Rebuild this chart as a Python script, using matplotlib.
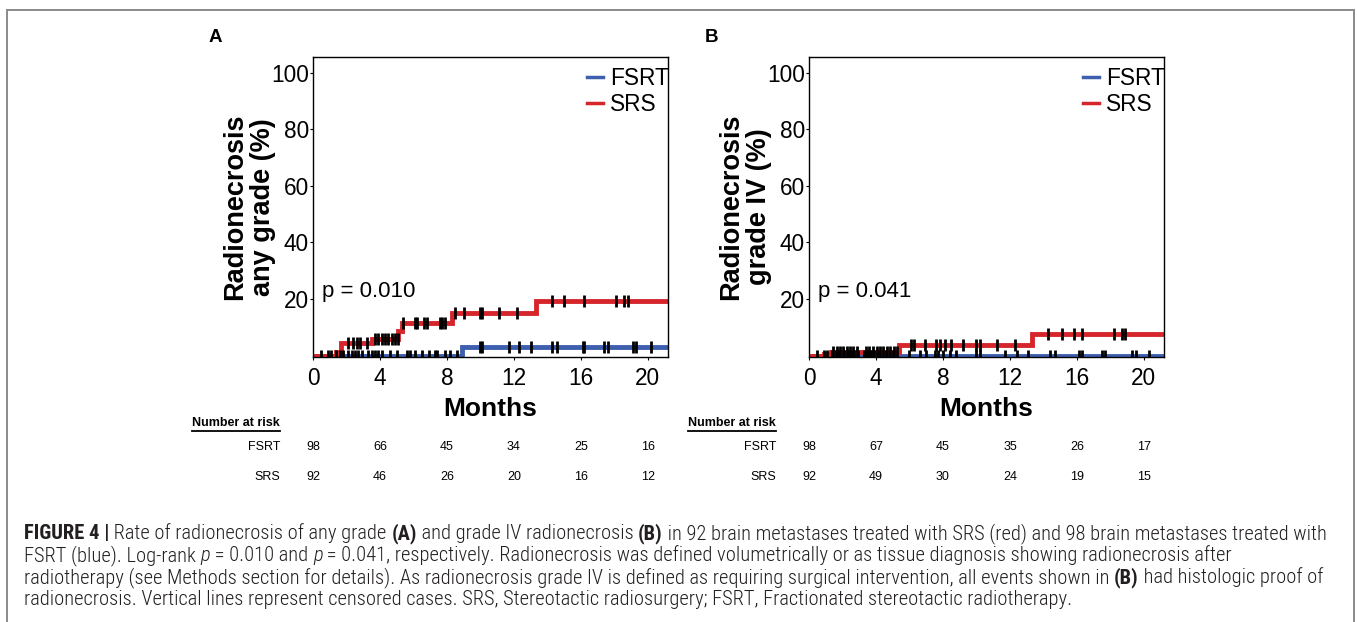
import matplotlib
matplotlib.use('Agg')
import matplotlib.pyplot as plt
import matplotlib.transforms as mtransforms
import numpy as np
from matplotlib import font_manager
from matplotlib.lines import Line2D
from matplotlib.patches import Rectangle

# ------------------------------------------------------------------ #
# data (months, cumulative rate in %)
# ------------------------------------------------------------------ #
risk_months = [0, 4, 8, 12, 16, 20]

# panel A: any grade
a_fsrt_times = [0, 8.9]
a_fsrt_rates = [0, 3.2]
a_fsrt_censor = [0.5, 0.9, 1.1, 1.4, 1.6, 1.8, 2.1, 2.3, 2.5, 2.7, 2.9, 3.3, 3.5,
                 3.7, 3.9, 4.1, 4.6, 5.0, 5.6, 5.8, 6.1, 6.5, 6.9, 7.3, 7.4, 7.9,
                 8.2, 8.6, 10.0, 10.1, 11.7, 12.3, 13.0, 14.3, 14.6, 16.1, 16.2,
                 17.4, 17.6, 19.1, 19.3, 20.2]
a_srs_times = [0, 1.4, 1.7, 3.5, 5.1, 5.3, 8.3, 13.3]
a_srs_rates = [0, 1.4, 4.3, 5.9, 8.7, 11.4, 14.9, 19.2]
a_srs_censor = [2.1, 2.4, 2.6, 2.8, 3.2, 3.7, 3.9, 4.1, 4.3, 4.5, 4.7, 4.9, 5.05,
                5.4, 6.1, 6.2, 6.6, 6.8, 7.6, 7.7, 7.9, 8.5, 9.0, 10.0, 10.1, 11.1,
                12.2, 14.3, 15.0, 16.2, 18.1, 18.6, 18.8]
a_risk_fsrt = [98, 66, 45, 34, 25, 16]
a_risk_srs = [92, 46, 26, 20, 16, 12]

# panel B: grade IV
b_fsrt_times = [0]
b_fsrt_rates = [0]
b_fsrt_censor = [0.5, 0.9, 1.1, 1.4, 1.6, 1.8, 2.1, 2.3, 2.5, 2.7, 2.9, 3.3, 3.5,
                 3.7, 3.9, 4.1, 4.6, 5.0, 6.0, 6.6, 7.0, 7.5, 7.7, 8.0, 8.4, 8.8,
                 10.0, 10.2, 11.7, 12.4, 13.1, 14.4, 14.7, 16.1, 16.3, 17.5, 17.7,
                 19.3, 19.5, 20.3]
b_srs_times = [0, 0.9, 1.3, 5.4, 13.3]
b_srs_rates = [0, 0.6, 1.2, 3.6, 7.7]
b_srs_censor = [1.45, 1.65, 1.85, 2.05, 2.25, 2.45, 2.65, 2.85, 3.4, 3.6, 3.85,
                4.05, 4.25, 4.4, 4.65, 4.85, 5.05, 5.25, 6.1, 6.3, 6.9, 7.6, 7.8,
                8.1, 8.5, 9.2, 10.0, 10.2, 11.2, 12.3, 14.3, 15.1, 15.8, 16.3,
                18.2, 18.7, 18.9]
b_risk_fsrt = [98, 67, 45, 35, 26, 17]
b_risk_srs = [92, 49, 30, 24, 19, 15]

W, H = 1357, 622
X_MAX = 21.2
BLUE = '#3d5fae'
RED = '#d6262c'

installed = {f.name for f in font_manager.fontManager.ttflist}
MAIN_FONT = 'Liberation Sans' if 'Liberation Sans' in installed else 'DejaVu Sans'
CAP_FONT = MAIN_FONT
for cand in ['Liberation Sans Narrow', 'Roboto Condensed', 'DejaVu Sans Condensed']:
    if cand in installed:
        CAP_FONT = cand
        break

plt.rcParams['font.family'] = MAIN_FONT


def fx(px):
    return px / W


def fy(py):
    return 1 - py / H


fig = plt.figure(figsize=(W / 100, H / 100), dpi=100)
fig.patch.set_facecolor('white')

# outer frame of the figure box
fig.patches.append(Rectangle((fx(7), -0.02), fx(1354) - fx(7), fy(10) + 0.02,
                             transform=fig.transFigure, fill=False,
                             ec='#8a8a8a', lw=1.4))

TXT = 9.0  # risk table font size


def draw_panel(left_px, letter, ylabel, pval, fsrt, srs, risk_fsrt, risk_srs):
    ax = fig.add_axes([fx(left_px), fy(357), 355 / W, 300 / H])
    for (times, rates, cens), col, lab in [(fsrt, BLUE, 'FSRT'), (srs, RED, 'SRS')]:
        tt = list(times) + [X_MAX + 1]
        rr = list(rates) + [rates[-1]]
        ax.step(tt, rr, where='post', color=col, lw=3.5, label=lab,
                solid_joinstyle='miter', zorder=2)
        idx = np.searchsorted(times, cens, side='right') - 1
        ax.plot(cens, np.asarray(rates)[idx], ls='none', marker='|', ms=8,
                mew=2.0, color='black', zorder=3)

    ax.set_xlim(0, X_MAX)
    ax.set_ylim(-0.5, 105.6)
    ax.set_xticks(risk_months)
    ax.set_yticks([20, 40, 60, 80, 100])
    ax.tick_params(direction='out', length=2.5, width=0.8, labelsize=16.3)
    ax.tick_params(axis='y', pad=0.5)
    ax.tick_params(axis='x', pad=5)
    for sp in ax.spines.values():
        sp.set_linewidth(1.0)
    ax.set_xlabel('Months', fontsize=19, fontweight='bold', labelpad=4.5)
    ax.set_ylabel(ylabel, fontsize=19.5, fontweight='bold', linespacing=1.1)
    ax.yaxis.set_label_coords(-0.105, 0.5)
    ax.text(0.55, 22.6, pval, fontsize=16, ha='left', va='center')

    handles = [Line2D([], [], color=BLUE, lw=2.5), Line2D([], [], color=RED, lw=2.5)]
    ax.legend(handles, ['FSRT', 'SRS'], loc='upper right', frameon=False,
              fontsize=16.3, handlelength=0.7, handletextpad=0.3,
              labelspacing=0.12, borderaxespad=0.0, borderpad=0.45,
              bbox_to_anchor=(1.03, 1.0))

    fig.text(fx(left_px - 98), fy(37), letter, fontsize=13.5, fontweight='bold',
             ha='center', va='center')

    # number at risk table
    lab_x = fx(left_px - 33)
    fig.text(lab_x, fy(423), 'Number at risk', fontsize=TXT, fontweight='bold',
             ha='right', va='center')
    fig.lines.append(Line2D([fx(left_px - 121), lab_x], [fy(431), fy(431)],
                            transform=fig.transFigure, color='black', lw=1.3))
    trans = mtransforms.blended_transform_factory(ax.transData, fig.transFigure)
    for row_y, name, vals in [(447, 'FSRT', risk_fsrt), (477, 'SRS', risk_srs)]:
        fig.text(lab_x, fy(row_y), name, fontsize=TXT, ha='right', va='center')
        for m, v in zip(risk_months, vals):
            ax.text(m, fy(row_y), str(v), transform=trans, fontsize=TXT,
                    ha='center', va='center', clip_on=False)
    return ax


draw_panel(313, 'A', 'Radionecrosis\nany grade (%)', 'p = 0.010',
           (a_fsrt_times, a_fsrt_rates, a_fsrt_censor),
           (a_srs_times, a_srs_rates, a_srs_censor), a_risk_fsrt, a_risk_srs)
draw_panel(809, 'B', 'Radionecrosis\ngrade IV (%)', 'p = 0.041',
           (b_fsrt_times, b_fsrt_rates, b_fsrt_censor),
           (b_srs_times, b_srs_rates, b_srs_censor), b_risk_fsrt, b_risk_srs)

# ------------------------------------------------------------------ #
# caption with mixed bold / italic runs
# ------------------------------------------------------------------ #
N, B, I = ('light', 'normal'), ('bold', 'normal'), ('light', 'italic')
caption = [
    [('FIGURE 4 |', B), (' Rate of radionecrosis of any grade ', N), ('(A)', B),
     (' and grade IV radionecrosis ', N), ('(B)', B),
     (' in 92 brain metastases treated with SRS (red) and 98 brain metastases treated with', N)],
    [('FSRT (blue). Log-rank ', N), ('p', I), (' = 0.010 and ', N), ('p', I),
     (' = 0.041, respectively. Radionecrosis was defined volumetrically or as tissue '
      'diagnosis showing radionecrosis after', N)],
    [('radiotherapy (see Methods section for details). As radionecrosis grade IV is '
      'defined as requiring surgical intervention, all events shown in ', N), ('(B)', B),
     (' had histologic proof of', N)],
    [('radionecrosis. Vertical lines represent censored cases. SRS, Stereotactic '
      'radiosurgery; FSRT, Fractionated stereotactic radiotherapy.', N)],
]
renderer = fig.canvas.get_renderer()


def run_width(s, size, weight, style):
    t1 = fig.text(0, 0, s + 'l', fontsize=size, fontweight=weight, fontstyle=style,
                  family=CAP_FONT)
    t2 = fig.text(0, 0, 'l', fontsize=size, fontweight=weight, fontstyle=style,
                  family=CAP_FONT)
    w = t1.get_window_extent(renderer).width - t2.get_window_extent(renderer).width
    t1.remove()
    t2.remove()
    return w


test = 10.0
widest = max(sum(run_width(s, test, *st) for s, st in line) for line in caption)
cap_size = test * 1300 / widest

for line, base in zip(caption, [539, 561, 583, 605]):
    x = 24.0
    for s, (weight, style) in line:
        fig.text(fx(x), fy(base), s, fontsize=cap_size, fontweight=weight,
                 fontstyle=style, family=CAP_FONT, ha='left', va='baseline',
                 color='#231f20')
        x += run_width(s, cap_size, weight, style)

fig.savefig('out.png', dpi=100)
